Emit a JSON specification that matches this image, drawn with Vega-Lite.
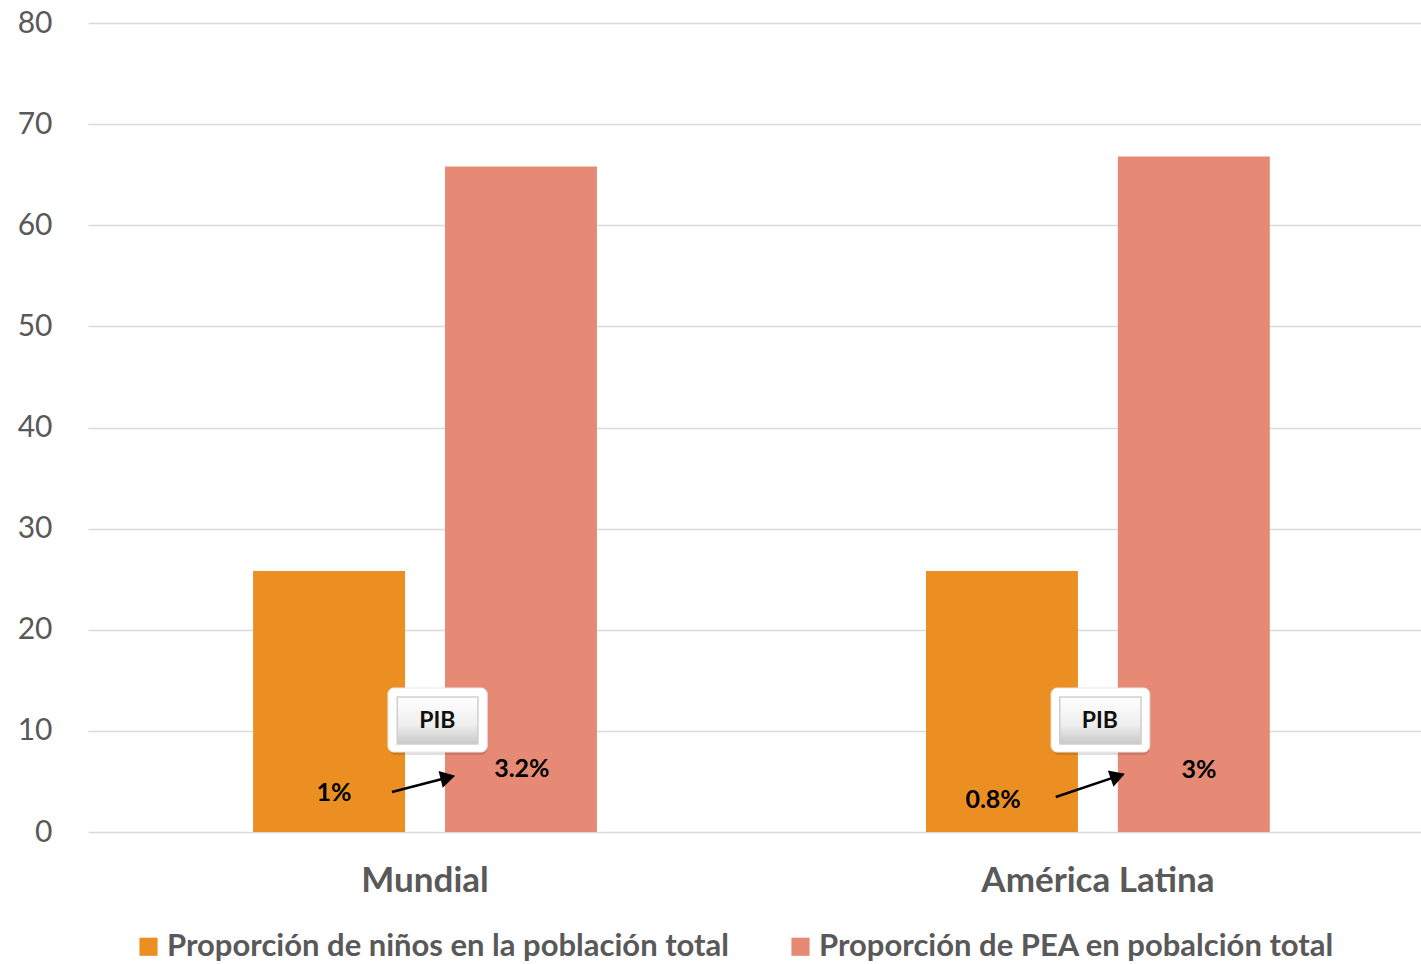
{
  "$schema": "https://vega.github.io/schema/vega-lite/v6.json",
  "width": 1333,
  "height": 809,
  "autosize": {"type": "none"},
  "padding": {"left": 88, "top": 23, "right": 0, "bottom": 132},
  "background": "white",
  "config": {
    "view": {"stroke": null},
    "font": "Lato",
    "axis": {"labelFont": "Lato", "labelColor": "#595959", "domain": false, "ticks": false}
  },
  "datasets": {
    "bars": [
      {"region": "Mundial", "serie": "Proporción de niños en la población total", "value": 25.8},
      {"region": "Mundial", "serie": "Proporción de PEA en pobalción total", "value": 65.8},
      {"region": "América Latina", "serie": "Proporción de niños en la población total", "value": 25.8},
      {"region": "América Latina", "serie": "Proporción de PEA en pobalción total", "value": 66.8}
    ],
    "boxes": [
      {"region": "Mundial", "x1": 0.450, "x2": 0.599, "y1": 7.91, "y2": 14.24, "ix1": 0.464, "ix2": 0.585, "iy1": 8.70, "iy2": 13.35, "tx": 0.524, "ty": 11.0, "t": "PIB"},
      {"region": "América Latina", "x1": 1.445, "x2": 1.593, "y1": 7.91, "y2": 14.24, "ix1": 1.458, "ix2": 1.580, "iy1": 8.70, "iy2": 13.35, "tx": 1.518, "ty": 11.0, "t": "PIB"}
    ],
    "labels": [
      {"t": "1%", "x": 0.369, "y": 3.86},
      {"t": "3.2%", "x": 0.651, "y": 6.23},
      {"t": "0.8%", "x": 1.358, "y": 3.16},
      {"t": "3%", "x": 1.667, "y": 6.13}
    ],
    "arrows": [
      {"region": "Mundial", "x1": 0.456, "y1": 3.96, "x2": 0.540, "y2": 5.39},
      {"region": "América Latina", "x1": 1.452, "y1": 3.46, "x2": 1.545, "y2": 5.52}
    ]
  },
  "layer": [
    {
      "data": {"name": "bars"},
      "mark": {"type": "bar"},
      "encoding": {
        "x": {
          "field": "region", "type": "nominal", "sort": ["Mundial", "América Latina"],
          "scale": {"paddingInner": 0.489, "paddingOuter": 0.235, "align": 0.522},
          "axis": {"title": null, "labelAngle": 0, "labelFontSize": 35, "labelFontWeight": "bold", "labelPadding": 31, "labelLimit": 0, "grid": false}
        },
        "xOffset": {
          "field": "serie", "type": "nominal",
          "sort": ["Proporción de niños en la población total", "Proporción de PEA en pobalción total"],
          "scale": {"paddingInner": 0.208, "paddingOuter": 0}
        },
        "y": {
          "field": "value", "type": "quantitative",
          "scale": {"domain": [0, 80]},
          "axis": {"title": null, "values": [0,10,20,30,40,50,60,70,80], "labelFontSize": 30, "labelPadding": 36, "gridColor": "#d9d9d9", "gridWidth": 1.5}
        },
        "color": {
          "field": "serie", "type": "nominal",
          "sort": ["Proporción de niños en la población total", "Proporción de PEA en pobalción total"],
          "scale": {"range": ["#EB8F22", "#E68A76"]},
          "legend": {
            "title": null, "orient": "none", "legendX": 45, "legendY": 908, "direction": "horizontal",
            "symbolType": "square", "symbolSize": 330, "symbolStrokeWidth": 0,
            "labelFont": "Lato", "labelFontSize": 31, "labelFontWeight": "bold", "labelColor": "#595959",
            "labelLimit": 0, "columnPadding": 55, "labelOffset": 3
          }
        }
      }
    },
    {
      "layer": [
        {
          "data": {"name": "boxes"},
          "mark": {"type": "rect", "fill": "#000000", "opacity": 0.12, "cornerRadius": 6, "xOffset": 2, "yOffset": 3},
          "encoding": {
            "x": {"field": "x1", "type": "quantitative", "scale": {"domain": [0, 2]}, "axis": null},
            "x2": {"field": "x2"},
            "y": {"field": "y1", "type": "quantitative"},
            "y2": {"field": "y2"}
          }
        },
        {
          "data": {"name": "boxes"},
          "mark": {"type": "rect", "fill": "#ffffff", "stroke": "#e6e6e6", "strokeWidth": 1, "cornerRadius": 6},
          "encoding": {
            "x": {"field": "x1", "type": "quantitative", "scale": {"domain": [0, 2]}, "axis": null},
            "x2": {"field": "x2"},
            "y": {"field": "y1", "type": "quantitative"},
            "y2": {"field": "y2"}
          }
        },
        {
          "data": {"name": "boxes"},
          "mark": {"type": "rect", "stroke": "#cfcfcf", "strokeWidth": 1.5,
            "fill": {"gradient": "linear", "x1": 0, "y1": 0, "x2": 0, "y2": 1,
              "stops": [{"offset": 0, "color": "#ffffff"}, {"offset": 0.6, "color": "#eeeeee"}, {"offset": 1, "color": "#c8c8c8"}]}},
          "encoding": {
            "x": {"field": "ix1", "type": "quantitative", "scale": {"domain": [0, 2]}, "axis": null},
            "x2": {"field": "ix2"},
            "y": {"field": "iy1", "type": "quantitative"},
            "y2": {"field": "iy2"}
          }
        },
        {
          "data": {"name": "boxes"},
          "mark": {"type": "text", "font": "Lato", "fontSize": 23, "fontWeight": "bold", "color": "#111111", "align": "center", "baseline": "middle"},
          "encoding": {
            "x": {"field": "tx", "type": "quantitative", "scale": {"domain": [0, 2]}, "axis": null},
            "y": {"field": "ty", "type": "quantitative"},
            "text": {"field": "t"}
          }
        },
        {
          "data": {"name": "labels"},
          "mark": {"type": "text", "font": "Lato", "fontSize": 25, "fontWeight": "bold", "color": "#000000", "align": "center", "baseline": "middle"},
          "encoding": {
            "x": {"field": "x", "type": "quantitative", "scale": {"domain": [0, 2]}, "axis": null},
            "y": {"field": "y", "type": "quantitative"},
            "text": {"field": "t"}
          }
        },
        {
          "data": {"name": "arrows"},
          "mark": {"type": "rule", "color": "#000000", "strokeWidth": 2.5},
          "encoding": {
            "x": {"field": "x1", "type": "quantitative", "scale": {"domain": [0, 2]}, "axis": null},
            "x2": {"field": "x2"},
            "y": {"field": "y1", "type": "quantitative"},
            "y2": {"field": "y2"}
          }
        },
        {
          "data": {"name": "arrows"},
          "transform": [{"filter": "datum.region == 'Mundial'"}],
          "mark": {"type": "point", "shape": "triangle-right", "filled": true, "color": "#000000", "opacity": 1, "size": 300, "angle": 346},
          "encoding": {
            "x": {"field": "x2", "type": "quantitative", "scale": {"domain": [0, 2]}, "axis": null},
            "y": {"field": "y2", "type": "quantitative"}
          }
        },
        {
          "data": {"name": "arrows"},
          "transform": [{"filter": "datum.region == 'América Latina'"}],
          "mark": {"type": "point", "shape": "triangle-right", "filled": true, "color": "#000000", "opacity": 1, "size": 300, "angle": 341},
          "encoding": {
            "x": {"field": "x2", "type": "quantitative", "scale": {"domain": [0, 2]}, "axis": null},
            "y": {"field": "y2", "type": "quantitative"}
          }
        }
      ]
    }
  ],
  "resolve": {"scale": {"x": "independent", "xOffset": "independent"}}
}
